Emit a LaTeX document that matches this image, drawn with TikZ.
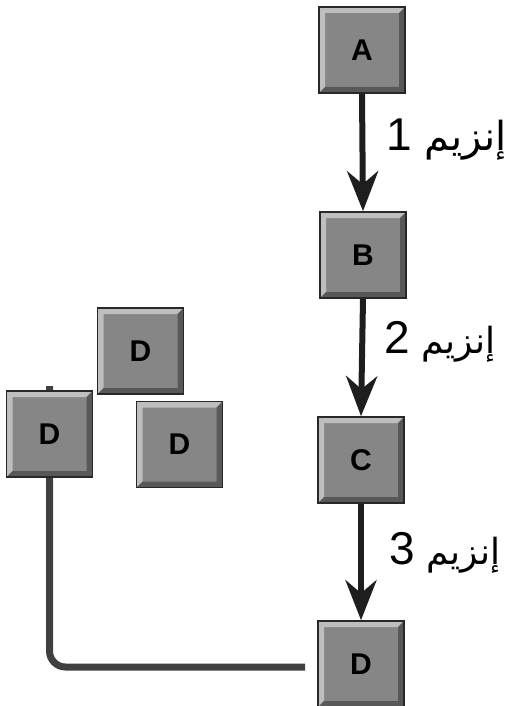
\documentclass[tikz,border=0pt]{standalone}
\usepackage{fontspec}
\setmainfont{Liberation Sans}
\newfontfamily\arabicfont[Script=Arabic]{DejaVu Sans}
\TeXXeTstate=1
\usetikzlibrary{arrows.meta,backgrounds}
\definecolor{boxface}{RGB}{134,134,134}
\definecolor{boxedge}{RGB}{40,40,40}
\definecolor{bevlight}{RGB}{190,190,190}
\definecolor{bevdark}{RGB}{88,88,88}
\definecolor{connclr}{RGB}{64,64,64}
\definecolor{arrclr}{RGB}{30,30,30}
\tikzset{
  bevelbox/.style={minimum width=86pt, minimum height=86pt, inner sep=0pt,
    fill=boxface, draw=boxedge, line width=1.6pt,
    font=\bfseries\fontsize{30}{30}\selectfont,
    path picture={
      \fill[bevlight] (path picture bounding box.north west) -- (path picture bounding box.north east)
        -- ([xshift=-6pt,yshift=-6pt]path picture bounding box.north east)
        -- ([xshift=6pt,yshift=-6pt]path picture bounding box.north west)
        -- ([xshift=6pt,yshift=6pt]path picture bounding box.south west)
        -- (path picture bounding box.south west) -- cycle;
      \fill[bevdark] (path picture bounding box.south east) -- (path picture bounding box.south west)
        -- ([xshift=6pt,yshift=6pt]path picture bounding box.south west)
        -- ([xshift=-6pt,yshift=6pt]path picture bounding box.south east)
        -- ([xshift=-6pt,yshift=-6pt]path picture bounding box.north east)
        -- (path picture bounding box.north east) -- cycle;
    }},
  arrowline/.style={draw=arrclr, line width=6pt,
    -{Stealth[length=40pt,width=31pt,inset=13pt]}},
  conn/.style={draw=connclr, line width=7pt, rounded corners=16pt},
  enzlabel/.style={anchor=west, inner sep=0pt, font=\arabicfont\fontsize{#1}{40}\selectfont}
}
\newcommand{\enz}[1]{\beginR إنزيم {\normalfont\fontsize{46}{46}\selectfont #1}\endR}
\begin{document}
\begin{tikzpicture}[x=1pt,y=1pt]
  \useasboundingbox (0,0) rectangle (514,-706);
  \node[bevelbox] (A) at (362,-50) {A};
  \node[bevelbox] (B) at (363,-255) {B};
  \node[bevelbox] (C) at (361,-460) {C};
  \node[bevelbox] (D) at (361,-664) {D};
  \node[bevelbox] (D1) at (140.5,-351) {D};
  \node[bevelbox] (D2) at (179.5,-444.5) {D};
  \node[bevelbox] (D3) at (49.5,-434) {D};
  \coordinate (dtop) at (49.5,-386);
  \coordinate (dend) at (305,-667);
  \draw[arrowline] (A.south) -- (B.north);
  \draw[arrowline] (B.south) -- (C.north);
  \draw[arrowline] (C.south) -- (D.north);
  \node[enzlabel=40] (L1) at (386,-140) {\enz{1}};
  \node[enzlabel=36] (L2) at (384,-342) {\enz{2}};
  \node[enzlabel=36] (L3) at (389,-553) {\enz{3}};
  \begin{scope}[on background layer]
    \draw[conn] (dtop) |- (dend);
  \end{scope}
\end{tikzpicture}
\end{document}
